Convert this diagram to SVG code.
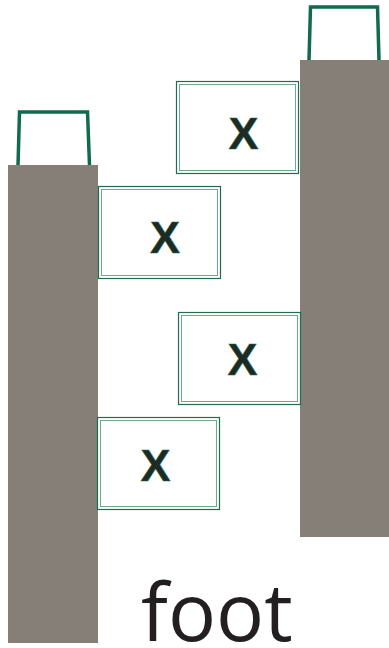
<svg xmlns="http://www.w3.org/2000/svg" width="389" height="648" viewBox="0 0 389 648">
<style>
.col{fill:#857f78}
.handle{fill:none;stroke:#0f6b4a;stroke-width:3.5;stroke-linejoin:miter}
.outer{fill:#fff;stroke:#1d6e4e;stroke-width:1.2}
.inner{fill:none;stroke:#6ea88b;stroke-width:1}
.lbl{font-family:"Liberation Sans",Arial,sans-serif;font-weight:bold;font-size:45px;fill:#1e2a24;stroke:#1d6e4e;stroke-width:0.5}
.foot{font-family:"Open Sans",sans-serif;font-size:80px;fill:#231f20}
</style>
<rect width="389" height="648" fill="#fff"/>
<g id="left-post">
<rect class="col" x="8" y="165" width="90" height="478"/>
<path class="handle" d="M18 165 L19.5 112 L87.5 112 L89.5 165"/>
</g>
<g id="right-post">
<rect class="col" x="300" y="60" width="89" height="477"/>
<path class="handle" d="M309 60 L310.5 7 L377.5 7 L379 60"/>
</g>
<g id="box1">
<rect class="outer" x="176.5" y="81.5" width="122" height="92"/>
<rect class="inner" x="179.5" y="84.5" width="116" height="86"/>
<text class="lbl" x="228.5" y="149">X</text>
</g>
<g id="box2">
<rect class="outer" x="98.5" y="186.5" width="122" height="92"/>
<rect class="inner" x="101.5" y="189.5" width="116" height="86"/>
<text class="lbl" x="150" y="253">X</text>
</g>
<g id="box3">
<rect class="outer" x="178.5" y="312.5" width="122" height="92"/>
<rect class="inner" x="181.5" y="315.5" width="116" height="86"/>
<text class="lbl" x="227.5" y="375">X</text>
</g>
<g id="box4">
<rect class="outer" x="97.5" y="417.5" width="122" height="92"/>
<rect class="inner" x="100.5" y="420.5" width="116" height="86"/>
<text class="lbl" x="140.5" y="481">X</text>
</g>
<g id="connectors"></g>
<text class="foot" x="141" y="641">foot</text>
</svg>
